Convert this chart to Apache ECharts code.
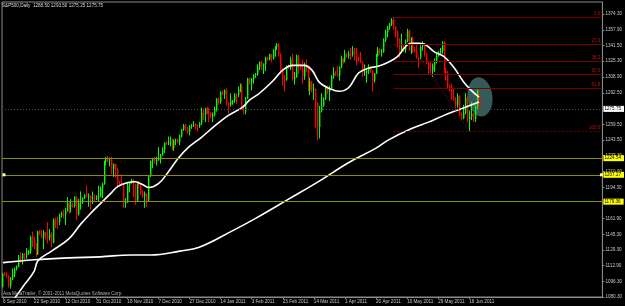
<!DOCTYPE html>
<html><head><meta charset="utf-8">
<script src="https://cdn.jsdelivr.net/npm/echarts@6/dist/echarts.min.js"></script>
<style>html,body{margin:0;padding:0;background:#000;}#c{width:625px;height:306px;}</style>
</head><body><div id="c"></div>
<script>
// ---- data (S&P500 Daily, one bar per session incl. Sunday sessions) ----
const opens = [
1091,1104.5,1104,1102,1092,1099,1104,1109.5,1112,1122,
1121,1125,1124.5,1125.5,1128,1142.5,1139.5,1134,1125,1148.5,
1146,1142,1147.5,1144.5,1141,1146,1137,1160.5,1160,1158,
1165,1167,1165.5,1169.5,1178,1174,1176,1175,1184.5,1166,
1178,1180,1183,1186,1185.5,1185.5,1182.5,1183.5,1183,1184,
1184.5,1193.5,1198,1221,1225.5,1222,1223,1213.5,1218.5,1213.5,
1199,1198,1197.5,1178,1178.5,1196.5,1199.5,1202,1197.5,1180.5,
1198,1196,1189,1185,1187.5,1180.5,1206,1221.5,1224.5,1221,
1223,1223.5,1228,1233,1240.5,1240,1240.5,1241.5,1235,1243,
1244,1241,1247,1254.5,1258.5,1256.5,1252,1257.5,1258.5,1259.5,
1258,1257.5,1261,1272,1270,1276.5,1274,1271.5,1268,1269.5,
1274.5,1286,1283.5,1293,1291,1295,1282,1280,1283.5,1284,
1291,1290.5,1296.5,1299.5,1276.5,1273,1286,1307.5,1304,1307,
1311,1312,1319,1324.5,1321,1322,1329,1327,1332.5,1328,
1336.5,1340.5,1343,1332,1315.5,1307.5,1306,1320,1318,1327,
1306.5,1308.5,1331,1321,1318,1310,1321.5,1320,1295,1304,
1296,1296.5,1281.5,1257,1273.5,1279,1286,1298.5,1293.5,1297.5,
1309.5,1313.5,1312,1310,1319.5,1328,1326,1332.5,1331,1333,
1332.5,1335.5,1333.5,1328,1327,1324.5,1314,1314.5,1315,1319.5,
1315,1305,1312.5,1330.5,1337.5,1334,1335,1347,1355.5,1360.5,
1363.5,1368,1361,1356.5,1347,1335,1340,1337,1346,1357,
1342,1348.5,1337.5,1336,1329.5,1329,1340.5,1343.5,1333,1324,
1317,1316,1320.5,1325.5,1331,1334,1336,1345,1314.5,1313,
1300,1297,1286,1285,1279.5,1289,1271,1266,1271.5,1287.5,
1265,1267.5,1271,1265,1278,1288.5
];
const highs = [
1105,1106,1106,1103,1101,1110,1111,1113,1124,1127,
1126,1126,1131,1129,1144,1148,1143,1136,1149,1150,
1150,1150,1148,1158,1151,1148,1162,1163,1164,1167,
1169,1171,1173,1184,1180,1182,1178,1185,1185,1182,
1190,1184,1187,1196,1188,1186,1190,1187,1186,1196,
1195,1199,1222,1226,1227,1225,1226,1219,1219,1214,
1201,1208,1198,1183,1200,1200,1203,1203,1198,1199,
1201,1198,1191,1190,1188,1207,1222,1225,1226,1226,
1236,1229,1236,1241,1242,1247,1247,1245,1244,1245,
1245,1249,1255,1260,1260,1257,1259,1260,1263,1261,
1260,1262,1277,1275,1277,1278,1277,1272,1272,1278,
1287,1288,1294,1295,1296,1297,1283,1292,1285,1292,
1292,1299,1302,1302,1279,1288,1308,1308,1308,1312,
1313,1322,1325,1326,1323,1330,1330,1333,1333,1338,
1341,1344,1344,1334,1318,1311,1321,1322,1330,1333,
1314,1332,1332,1323,1327,1324,1327,1321,1308,1305,
1302,1297,1283,1279,1292,1288,1300,1300,1300,1311,
1319,1315,1320,1320,1331,1329,1337,1334,1336,1339,
1341,1339,1339,1330,1335,1325,1322,1316,1322,1320,
1316,1313,1333,1340,1339,1338,1349,1358,1362,1365,
1370,1370.75,1362,1357,1349,1354,1342,1348,1359,1358,
1350,1351,1340,1344,1330,1342,1346,1344,1334,1325,
1324,1323,1328,1334,1336,1339,1346,1346,1318,1315,
1301,1302,1297,1288,1292,1290,1272,1280,1292,1289,
1274,1283,1272,1280,1296,1293.5
];
const lows = [
1090,1102,1100,1090,1089,1098,1101,1108,1111,1116,
1114,1118,1120,1124,1125,1132,1130,1122,1124,1145,
1141,1130,1140,1136,1139,1132,1136,1152,1151,1155,
1163,1162,1155,1169,1167,1168,1173,1173,1160,1165,
1171,1177,1182,1184,1174,1171,1177,1179,1181,1179,
1184,1183,1197,1217,1220,1216,1208,1205,1204,1194,
1195,1196,1173,1173,1178,1189,1198,1184,1176,1180,
1194,1186,1183,1173,1174,1179,1205,1214,1219,1217,
1222,1219,1227,1230,1238,1238,1237,1233,1232,1238,
1240,1238,1246,1253,1253,1250,1248,1255,1257,1254,
1252,1256,1259,1264,1262,1270,1262,1266,1262,1268,
1273,1280,1281,1290,1286,1279,1271,1278,1280,1282,
1281,1288,1293,1275,1270,1270,1286,1301,1295,1302,
1308,1310,1316,1316,1312,1315,1326,1326,1324,1327,
1330,1337,1330,1312,1300,1294,1305,1317,1316,1305,
1301,1308,1312,1316,1302,1306,1314,1294,1290,1293,
1285,1256,1243,1245,1272,1278,1285,1291,1284,1297,
1307,1310,1309,1305,1318,1323,1324,1329,1328,1327,
1330,1326,1321,1325,1323,1309,1310,1303,1312,1313,
1294,1303,1312,1330,1332,1330,1334,1345,1350,1358,
1362,1358,1350,1340,1329,1334,1335,1334,1345,1336,
1333,1334,1334,1328,1318,1327,1336,1330,1322,1311,
1313,1309,1314,1323,1330,1332,1333,1313,1305,1296,
1294,1285,1284,1276,1277,1268,1264,1265,1270,1262,
1252.5,1264,1262,1262,1275,1275.25
];
const closes = [
1104.5,1104,1102,1092,1099,1104,1109.5,1112,1122,1121,
1125,1124.5,1125.5,1128,1142.5,1139.5,1134,1125,1148.5,1146,
1142,1147.5,1144.5,1141,1146,1137,1160.5,1160,1158,1165,
1167,1165.5,1169.5,1178,1174,1176,1175,1184.5,1166,1178,
1180,1183,1186,1185.5,1185.6,1182.5,1183.5,1183,1184,1184.5,
1193.5,1198,1221,1225.5,1222,1223,1213.5,1218.5,1213.5,1199,
1198,1197.5,1178,1178.5,1196.5,1199.5,1202,1197.5,1180.5,1198,
1196,1189,1185,1187.5,1180.5,1206,1221.5,1224.5,1221,1223,
1223.5,1228,1233,1240.5,1240,1240.5,1241.5,1235,1243,1244,
1241,1247,1254.5,1258.5,1256.5,1252,1257.5,1258.5,1259.5,1258,
1257.5,1261,1272,1270,1276.5,1274,1271.5,1268,1269.5,1274.5,
1286,1283.5,1293,1291,1295,1282,1280,1283.5,1284,1291,
1290.5,1296.5,1299.5,1276.5,1273,1286,1307.5,1304,1307,1311,
1312,1319,1324.5,1321,1322,1329,1327,1332.5,1328,1336.5,
1340.5,1343,1332,1315.5,1307.5,1306,1320,1318,1327,1306.5,
1308.5,1331,1321,1318,1310,1321.5,1320,1295,1304,1296,
1296.5,1281.5,1257,1273.5,1279,1286,1298.5,1293.5,1297.5,1309.5,
1313.5,1312,1310,1319.5,1328,1326,1332.5,1331,1333,1332.5,
1335.5,1333.5,1328,1327,1324.5,1314,1314.5,1315,1319.5,1315,
1305,1312.5,1330.5,1337.5,1334,1335,1347,1355.5,1360.5,1363.5,
1368,1361,1356.5,1347,1335,1340,1337,1346,1357,1342,
1348.5,1337.5,1336,1329.5,1329,1340.5,1343.5,1333,1324,1317,
1316,1320.5,1325.5,1331,1334,1336,1345,1314.5,1313,1300,
1297,1286,1285,1279.5,1289,1271,1266,1271.5,1287.5,1265,
1267.5,1271,1265,1278,1295,1275.75
];
// moving averages: [bar index, price]
const fastMA = [[4,1073],[6,1079],[11,1093],[16,1107],[18,1118],[25,1128],[34,1141],[40,1156],[45,1167],[50,1177],
[56,1189],[59,1195],[64,1199],[68,1200],[72,1197],[75,1194],[80,1198],[85,1210],[90,1224],[95,1235],
[102,1246],[109,1258],[116,1269],[123,1277],[127,1285],[132,1292],[139,1305],[144,1316],[149,1321],[155,1321],
[159,1316],[163,1303],[168,1297],[173,1294],[178,1298],[183,1313],[188,1318],[193,1320],[198,1324],[203,1330],
[207,1340],[210,1344],[214,1344],[217,1343],[222,1335],[227,1330],[232,1319],[237,1304],[241,1295],[245,1288]];
const slowMA = [[0,1116],[16,1119],[34,1121],[50,1122],[66,1124],[76,1124],[91,1128],[101,1132],[118,1149],[130,1162],
[147,1182],[163,1201],[178,1220],[192,1235],[198,1243],[210,1255],[219,1262],[227,1269],[236,1276],[245,1283]];

const dateLabels = ["6 Sep 2010","22 Sep 2010","12 Oct 2010","31 Oct 2010","18 Nov 2010","7 Dec 2010","27 Dec 2010","14 Jan 2011","3 Feb 2011","23 Feb 2011","14 Mar 2011","1 Apr 2011","20 Apr 2011","10 May 2011","29 May 2011","16 Jun 2011"];
const dateLabelStep = 16;
const barSlots = 309;
const priceTickLabels = ["1374.30","1357.90","1341.50","1325.30","1308.90","1292.50","1276.30","1259.50","1243.50","1227.30","1210.90","1194.30","1178.30","1161.90","1145.30","1129.30","1112.90","1096.30","1080.30"];
const fibNames = ["0.0","23.6","38.2","50.0","61.8","100.0"];
const fibValues = [1370.75,1342.83,1325.56,1311.61,1297.65,1252.46];
const fibExtNames = ["123.6","138.2","161.8"];
const fibExtValues = [1224.54,1207.27,1179.36];
const fibStartBar = 201, fibEndBar = 240;
const bidPrice = 1275.75;
const headerText = "S&P500,Daily  1288.50 1293.50 1275.25 1275.75";
const footerText = "Ava MetaTrader, \u00a9 2001-2011 MetaQuotes Software Corp.";

// ---- chart ----
const FONT = 'Liberation Sans';
const FS = 4.6;
const UP = '#00ff00', DOWN = '#ff0000';
const cats = Array.from({length: barSlots}, (_, i) => String(i));
const candleRows = opens.map((o, i) => [i, o, closes[i], lows[i], highs[i]]);
const lastSlot = barSlots - 1;

const fibLines = fibValues.map((v, i) => [
  {coord: [fibStartBar, v], lineStyle: {color: '#7a0000', width: 1, type: i === 5 ? [2, 2] : 'solid'},
   label: {show: true, position: 'insideEndTop', formatter: fibNames[i], color: '#c01010', fontSize: FS, fontFamily: FONT, distance: 1}},
  {coord: [lastSlot, v]}
]);
const fibExtLabels = fibExtValues.map((v, i) => [
  {coord: [fibStartBar, v], lineStyle: {opacity: 0},
   label: {show: true, position: 'insideEndTop', formatter: fibExtNames[i], color: '#c01010', fontSize: FS, fontFamily: FONT, distance: 1}},
  {coord: [lastSlot, v]}
]);
const yellowLines = fibExtValues.map(v => ({
  yAxis: v, lineStyle: {color: '#8c8c00', width: 1, type: 'solid'},
  label: {show: true, position: 'end', formatter: v.toFixed(2), color: '#000', backgroundColor: '#ffff00',
          fontSize: FS, fontFamily: FONT, padding: [1, 3, 0, 1], distance: 1}
}));
const bidLine = {
  yAxis: bidPrice, lineStyle: {color: '#4a554a', width: 1, type: [1, 2]},
  label: {show: true, position: 'end', formatter: bidPrice.toFixed(2), color: '#000', backgroundColor: '#ffffff',
          fontSize: FS, fontFamily: FONT, padding: [1, 3, 0, 1], distance: 1}
};
const diagLine = [
  {coord: [fibStartBar, fibValues[0]], lineStyle: {color: '#a01010', width: 1, type: [1, 2]}, label: {show: false}},
  {coord: [fibEndBar, fibValues[5]]}
];

function renderCandle(params, api) {
  const i = api.value(0), o = api.value(1), c = api.value(2), l = api.value(3), h = api.value(4);
  const pO = api.coord([i, o]), pC = api.coord([i, c]);
  const pL = api.coord([i, l]), pH = api.coord([i, h]);
  const col = c >= o ? UP : DOWN;
  const cx = Math.floor(pO[0]) + 0.5;
  const top = Math.min(pO[1], pC[1]), bot = Math.max(pO[1], pC[1]);
  return {type: 'group', children: [
    {type: 'line', shape: {x1: cx, y1: pH[1], x2: cx, y2: pL[1]}, style: {stroke: col, lineWidth: 1}},
    {type: 'rect', shape: {x: cx - 0.5, y: top, width: 1.4, height: Math.max(1, bot - top)}, style: {fill: col}}
  ]};
}

const chart = echarts.init(document.getElementById('c'), null, {renderer: 'canvas'});
const option = {
  backgroundColor: '#000000',
  animation: false,
  grid: {left: 0, right: 19, top: 2, bottom: 9, show: true, borderColor: '#8a8a8a', borderWidth: 1, containLabel: false},
  xAxis: {
    type: 'category', data: cats, boundaryGap: true,
    axisLine: {show: true, lineStyle: {color: '#8a8a8a', width: 1}},
    axisTick: {show: true, length: 2, alignWithLabel: true, interval: (i) => i % dateLabelStep === 0 && i / dateLabelStep < dateLabels.length, lineStyle: {color: '#8a8a8a'}},
    axisLabel: {show: true, interval: (i) => i % dateLabelStep === 0 && i / dateLabelStep < dateLabels.length,
      formatter: (v, i) => dateLabels[i / dateLabelStep] || '', align: 'left', margin: 2,
      color: '#c8c8c8', fontSize: FS, fontFamily: FONT},
    splitLine: {show: false}
  },
  yAxis: {
    type: 'value', position: 'right', min: 1080.3, max: 1386.8, scale: true,
    axisLine: {show: true, lineStyle: {color: '#8a8a8a', width: 1}},
    axisTick: {show: true, length: 2, customValues: priceTickLabels.map(Number), lineStyle: {color: '#8a8a8a'}},
    axisLabel: {show: true, customValues: priceTickLabels.map(Number), formatter: (v) => Number(v).toFixed(2),
      margin: 3, color: '#c8c8c8', fontSize: FS, fontFamily: FONT, align: 'left'},
    splitLine: {show: false}
  },
  series: [
    {
      type: 'line', name: 'annotations', data: [], z: 1, silent: true,
      markLine: {symbol: 'none', silent: true, animation: false,
        data: [bidLine, ...yellowLines, ...fibLines, ...fibExtLabels, diagLine]}
    },
    {
      type: 'custom', name: 'S&P500', data: candleRows, z: 3, clip: true,
      encode: {x: 0, y: [1, 2, 3, 4]}, renderItem: renderCandle
    },
    {
      type: 'line', name: 'MA fast', data: fastMA, z: 4, smooth: 0.4, symbol: 'none', clip: true,
      lineStyle: {color: '#ffffff', width: 1.6}
    },
    {
      type: 'line', name: 'MA slow', data: slowMA, z: 4, smooth: 0.4, symbol: 'none', clip: true,
      lineStyle: {color: '#ffffff', width: 1.6}
    }
  ]
};
chart.setOption(option);

// annotations that need pixel positions from the axes
const P = (x, y) => chart.convertToPixel({xAxisIndex: 0, yAxisIndex: 0}, [x, y]);
const ellC = P(245, 1288.3);
const barPx = (P(251, 1288.3)[0] - ellC[0]) / 6;
const pricePx = Math.abs(P(245, 1309.3)[1] - ellC[1]) / 21;
const hL = P(0, fibExtValues[1]);
const hR = P(lastSlot, fibExtValues[1]);
chart.setOption({
  graphic: [
    {type: 'circle', x: ellC[0] + 1, y: ellC[1], shape: {cx: 0, cy: 0, r: 20.5 * pricePx},
     scaleX: (6.4 * barPx) / (20.5 * pricePx), rotation: 0.12, z: 2,
     style: {fill: 'rgba(70,120,120,0.75)'}},
    {type: 'rect', shape: {x: hL[0] - 0.5, y: hL[1] - 1.5, width: 3, height: 3}, style: {fill: '#ffffc0'}, z: 5},
    {type: 'rect', shape: {x: hR[0] - 1.5, y: hR[1] - 1.5, width: 3, height: 3}, style: {fill: '#ffffc0'}, z: 5},
    {type: 'text', x: 2, y: 3, style: {text: headerText, fill: '#d8d8d8', font: FS + 'px "' + FONT + '"', textVerticalAlign: 'top'}, z: 6},
    {type: 'text', x: 3, y: 291, style: {text: footerText, fill: '#b0b0b0', font: FS + 'px "' + FONT + '"', textVerticalAlign: 'top'}, z: 6}
  ]
});
</script>
</body></html>
